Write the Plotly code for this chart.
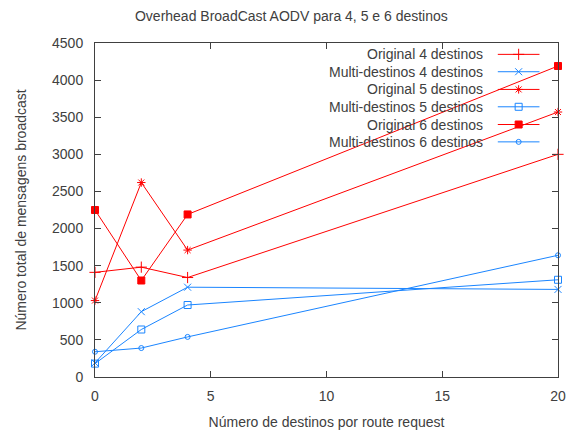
import plotly.graph_objects as go

x = [0, 2, 4, 20]
orig4 = [1410, 1480, 1340, 3000]
multi4 = [190, 880, 1210, 1180]
orig5 = [1030, 2620, 1710, 3570]
multi5 = [180, 640, 970, 1310]
orig6 = [2250, 1300, 2190, 4190]
multi6 = [340, 390, 540, 1640]

names = ["Original 4 destinos", "Multi-destinos 4 destinos", "Original 5 destinos",
         "Multi-destinos 5 destinos", "Original 6 destinos", "Multi-destinos 6 destinos"]
series = [orig4, multi4, orig5, multi5, orig6, multi6]
RED = "#ff0000"
BLUE = "#1a85ff"
colors = [RED, BLUE, RED, BLUE, RED, BLUE]
symbols = ["cross-thin", "x-thin", "asterisk", "square-open", "square", "circle-open"]
sizes = [8, 7, 7, 7, 7, 5]

FONT = "Liberation Sans"
TXT = "#404040"
FS = 14

fig = go.Figure()
for name, ys, c, s, sz in zip(names, series, colors, symbols, sizes):
    fig.add_trace(go.Scatter(
        x=x, y=ys, mode="lines+markers", name=name,
        line=dict(color=c, width=1),
        marker=dict(symbol=s, size=sz, color=c, line=dict(color=c, width=1)),
        showlegend=False, cliponaxis=False))

# custom legend (text right-aligned, sample on the right) on an overlay axis
leg_y = [0.966, 0.914, 0.861, 0.809, 0.756, 0.704]
for name, c, s, sz, ly in zip(names, colors, symbols, sizes, leg_y):
    fig.add_trace(go.Scatter(
        x=[0.87, 0.915, 0.96], y=[ly, ly, ly], mode="lines+markers",
        line=dict(color=c, width=1),
        marker=dict(symbol=s, size=sz, color=c, line=dict(color=c, width=1)),
        selectedpoints=[1], unselected=dict(marker=dict(opacity=0)),
        xaxis="x2", yaxis="y2", showlegend=False, hoverinfo="skip"))
    fig.add_annotation(x=0.843, y=ly, xref="x2", yref="y2", text=name,
                       showarrow=False, xanchor="right", yanchor="middle",
                       font=dict(family=FONT, size=FS, color=TXT))

axis_common = dict(showgrid=False, zeroline=False, showline=True, mirror="ticks",
                   linecolor="#404040", linewidth=1, ticks="inside", ticklen=6,
                   tickcolor="#404040", automargin=False,
                   tickfont=dict(family=FONT, size=FS, color=TXT))

fig.update_layout(
    width=577, height=432,
    margin=dict(l=95, r=19, t=43, b=55),
    paper_bgcolor="white", plot_bgcolor="white",
    title=dict(text="Overhead BroadCast AODV para 4, 5 e 6 destinos",
               x=0.505, xanchor="center", y=0.962, yanchor="middle",
               font=dict(family=FONT, size=FS, color=TXT)),
    xaxis=dict(range=[0, 20], tickvals=[0, 5, 10, 15, 20], ticklabelstandoff=6,
               title=dict(text="Número de destinos por route request", standoff=14,
                          font=dict(family=FONT, size=FS, color=TXT)),
               **axis_common),
    yaxis=dict(range=[0, 4500], tickvals=list(range(0, 4501, 500)), ticklabelstandoff=8,
               title=dict(text="Número total de mensagens broadcast", standoff=22,
                          font=dict(family=FONT, size=FS, color=TXT)),
               **axis_common),
    xaxis2=dict(range=[0, 1], overlaying="x", visible=False, fixedrange=True),
    yaxis2=dict(range=[0, 1], overlaying="y", visible=False, fixedrange=True),
)

fig.write_html("out.html")
